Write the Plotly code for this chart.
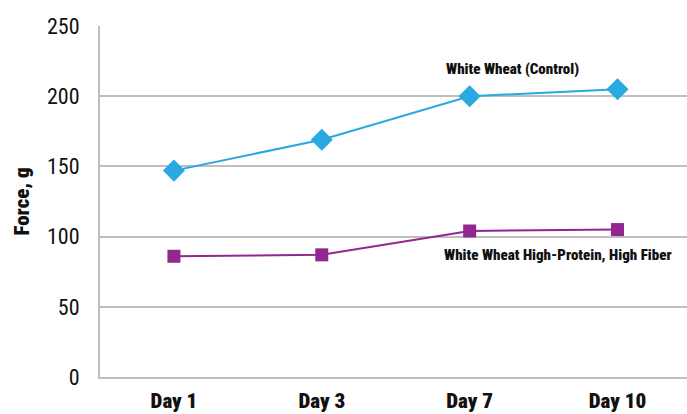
import plotly.graph_objects as go

# Texture analysis: force (g) over storage days
days = ["Day 1", "Day 3", "Day 7", "Day 10"]
control = [147, 169, 200, 205]
high_protein_fiber = [86, 87, 104, 105]
y_ticks = [0, 50, 100, 150, 200, 250]

BLUE = "#29A9E0"
PURPLE = "#92278F"
GRID = "#BFBFBF"
INK = "#111111"
FONT = "Roboto Condensed, Open Sans Condensed, sans-serif"

fig = go.Figure()
fig.add_trace(go.Scatter(
    x=days, y=control, mode="lines+markers", name="White Wheat (Control)",
    line=dict(color=BLUE, width=2),
    marker=dict(symbol="diamond", size=17, color=BLUE),
))
fig.add_trace(go.Scatter(
    x=days, y=high_protein_fiber, mode="lines+markers",
    name="White Wheat High-Protein, High Fiber",
    line=dict(color=PURPLE, width=2),
    marker=dict(symbol="square", size=13, color=PURPLE),
))

# Series labels placed beside the lines
label_font = dict(family=FONT, size=15, color=INK, weight=900)
fig.add_annotation(x=2.29, y=control[2], yshift=27, text="White Wheat (Control)",
                   showarrow=False, font=label_font)
fig.add_annotation(x=2.595, y=high_protein_fiber[2], yshift=-24,
                   text="White Wheat High-Protein, High Fiber",
                   showarrow=False, font=label_font)

fig.update_layout(
    width=687, height=414,
    margin=dict(l=100, r=0, t=26, b=37),
    paper_bgcolor="white", plot_bgcolor="white",
    showlegend=False,
    font=dict(family=FONT, color=INK),
    xaxis=dict(
        type="category", range=[-0.5, 3.47],
        showgrid=False, showline=True, linecolor=GRID, linewidth=2,
        ticks="", ticklabelstandoff=4,
        tickfont=dict(family=FONT, size=21, color=INK, weight=900),
    ),
    yaxis=dict(
        range=[0, 250], tickvals=y_ticks,
        showgrid=True, gridcolor=GRID, gridwidth=1.5,
        showline=True, linecolor=GRID, linewidth=2,
        zeroline=False, ticks="", ticklabelstandoff=14,
        tickfont=dict(family=FONT, size=22, color=INK),
        title=dict(text="Force, g", font=dict(family=FONT, size=21, color=INK, weight=900),
                   standoff=12),
    ),
)

fig.write_html("out.html")
